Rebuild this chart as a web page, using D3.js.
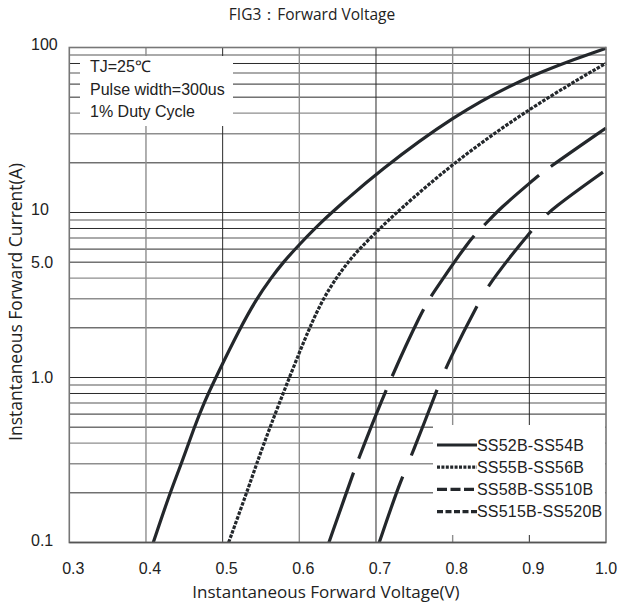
<!DOCTYPE html>
<html><head><meta charset="utf-8">
<script src="https://cdn.jsdelivr.net/npm/d3@7"></script>
<style>body{margin:0;background:#fff}svg{display:block}</style>
</head><body>
<script>
// ---- data ----
const xTicks = [0.3,0.4,0.5,0.6,0.7,0.8,0.9,1.0];
const xTickLabels = ["0.3","0.4","0.5","0.6","0.7","0.8","0.9","1.0"];
const yTicks = [0.1,1,5,10,100];
const yTickLabels = ["0.1","1.0","5.0","10","100"];
const seriesNames = ["SS52B-SS54B","SS55B-SS56B","SS58B-SS510B","SS515B-SS520B"];
const s1V = [0.4095,0.4313,0.4462,0.4630,0.4755,0.491,0.5229,0.5443,0.5630,0.579,0.600,0.630,0.660,0.700,0.800,0.900,1.000];
const s1I = [0.1,0.2,0.3,0.5,0.7,1.0,2,3,4,5,6.4,8.9,11.8,17.2,38.5,68.3,99];
const s2V = [0.5078,0.5313,0.5443,0.5617,0.587,0.613,0.631,0.648,0.6635,0.678,0.7051,0.7268,0.800,0.900,1.000];
const s2I = [0.1,0.2,0.3,0.5,1.0,2,3,4,5,6,8,10,19.9,42.9,80.4];
const s3V = [0.6386,0.6734,0.681,0.7146,0.7616,0.7738,0.8224,0.8397,0.8616,0.9042,0.9194,1.000];
const s3I = [0.1,0.289,0.356,0.89,2.63,3.21,6.9,8.2,10.6,15.6,17.9,32.5];
const s4V = [0.7042,0.7312,0.7466,0.7806,0.7942,0.8355,0.852,0.9072,0.9289,1.000];
const s4I = [0.1,0.233,0.336,0.87,1.24,2.96,3.95,8.3,10.5,18.1];
const noteLines = ["TJ=25℃","Pulse width=300us","1% Duty Cycle"];

// ---- layout ----
const W=620,H=603;
const L=69.3,R=606,T=47.5,B=542.5;
const svg=d3.select("body").append("svg").attr("width",W).attr("height",H);
const x=d3.scaleLinear().domain([0.3,1.0]).range([L,R]);
const y=d3.scaleLog().domain([0.1,100]).range([B,T]);
const dark="#2b2b2b", gray="#8e8e8e", curveCol="#23272b";

// grid
const yGrid=[];
[0.1,1,10].forEach(d=>{for(let m=1;m<=9;m++){const v=+(d*m).toPrecision(3); if(v>0.1&&v<100) yGrid.push({v,m});}});
const darkM=new Set([1,2,5,6,8]);
svg.append("g").selectAll("line").data(yGrid).join("line")
  .attr("x1",L).attr("x2",R).attr("y1",d=>y(d.v)).attr("y2",d=>y(d.v))
  .attr("stroke",d=>darkM.has(d.m)?dark:gray).attr("stroke-width",d=>darkM.has(d.m)?1:1.4);
const xg=xTicks.slice(1,-1);
svg.append("g").selectAll("line").data(xg).join("line")
  .attr("y1",T).attr("y2",B).attr("x1",d=>x(d)).attr("x2",d=>x(d))
  .attr("stroke",(d,i)=>i%2===0?gray:dark).attr("stroke-width",(d,i)=>i%2===0?1.4:1);

// note box
svg.append("rect").attr("x",80).attr("y",56).attr("width",153).attr("height",70).attr("fill","#fff");
svg.append("g").selectAll("text").data(noteLines).join("text")
  .attr("x",90).attr("y",(d,i)=>72+i*22.5)
  .attr("font-family","Liberation Sans, Arial, sans-serif").attr("font-size",16)
  .attr("fill","#222").text(d=>d);

// legend box
svg.append("rect").attr("x",433).attr("y",425).attr("width",172).attr("height",110).attr("fill","#fff");

// curves
const series=[[s1V,s1I],[s2V,s2I],[s3V,s3I],[s4V,s4I]];
const dashes=[null,"3.5,1.4","74,15","70,23"];
const legDash=[null,"3,1.4","10,3.5","6,2.5"];
const line=d3.line().x(d=>x(d[0])).y(d=>y(d[1])).curve(d3.curveBasis);
series.forEach((s,k)=>{
  const pts=s[0].map((v,i)=>[v,s[1][i]]);
  svg.append("path").attr("d",line(pts)).attr("fill","none")
    .attr("stroke",curveCol).attr("stroke-width",3.2)
    .attr("stroke-dasharray",dashes[k]);
});

// legend
const lg=svg.append("g");
seriesNames.forEach((n,k)=>{
  const cy=445+k*22.2;
  lg.append("line").attr("x1",437).attr("x2",477).attr("y1",cy).attr("y2",cy)
    .attr("stroke",curveCol).attr("stroke-width",3.2).attr("stroke-dasharray",legDash[k]);
  lg.append("text").attr("x",477).attr("y",cy+5.8)
    .attr("font-family","Liberation Sans, Arial, sans-serif").attr("font-size",16)
    .attr("letter-spacing",0.2).attr("fill","#222").text(n);
});

// frame
svg.append("rect").attr("x",L).attr("y",T).attr("width",R-L).attr("height",B-T)
  .attr("fill","none").attr("stroke","#777").attr("stroke-width",1.6);
svg.append("line").attr("x1",L).attr("x2",R).attr("y1",B).attr("y2",B).attr("stroke","#555").attr("stroke-width",1.4);

// tick labels
svg.append("g").selectAll("text").data(xTicks).join("text")
  .attr("x",d=>Math.min(x(d)+4,606)).attr("y",574).attr("text-anchor","middle")
  .attr("font-family","Liberation Sans, Arial, sans-serif").attr("font-size",16).attr("fill","#222")
  .text((d,i)=>xTickLabels[i]);
svg.append("g").selectAll("text").data(yTicks).join("text")
  .attr("x",31).attr("y",d=>y(d)+5.5-(d>=10?3.5:(d<=0.1?2:0)))
  .attr("font-family","Liberation Sans, Arial, sans-serif").attr("font-size",16).attr("fill","#222")
  .text((d,i)=>yTickLabels[i]);

// titles
svg.append("text").attr("x",312).attr("y",20).attr("text-anchor","middle")
  .attr("font-family","Open Sans, sans-serif").attr("font-size",15.5).attr("fill","#222")
  .text("FIG3：Forward Voltage");
svg.append("text").attr("x",326).attr("y",598).attr("text-anchor","middle")
  .attr("font-family","Open Sans, sans-serif").attr("font-size",17).attr("fill","#222")
  .text("Instantaneous Forward Voltage(V)");
svg.append("text").attr("transform","translate(22,302) rotate(-90)").attr("text-anchor","middle")
  .attr("font-family","Open Sans, sans-serif").attr("font-size",17.5).attr("fill","#222")
  .text("Instantaneous Forward Current(A)");
</script>
</body></html>
